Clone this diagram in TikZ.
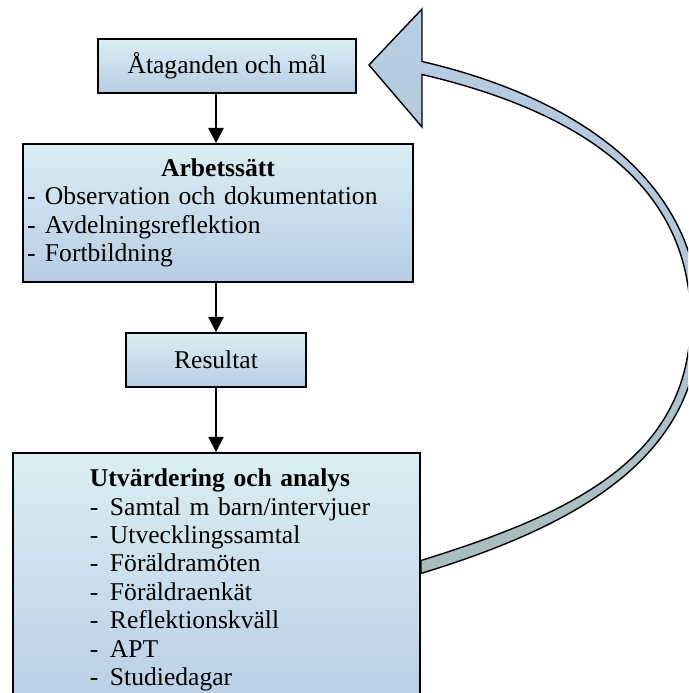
\documentclass[tikz,border=0pt]{standalone}
\usepackage{fontspec}
\setmainfont{Liberation Serif}
\usetikzlibrary{arrows.meta,positioning}
\definecolor{boxtop}{HTML}{DBEEF4}
\definecolor{boxbottom}{HTML}{B8CCE4}
\definecolor{looptop}{HTML}{B9CDE5}
\definecolor{loopbottom}{HTML}{A9BDBF}

\begin{document}
\begin{tikzpicture}[
    every node/.style={font=\fontsize{18.2}{20.2}\selectfont},
    stage/.style={
        rectangle,
        draw,
        line width=1.2pt,
        top color=boxtop,
        bottom color=boxbottom,
        minimum height=1.35cm,
        align=center
    },
    listbox/.style={
        stage,
        align=left,
        inner xsep=0.1cm
    },
    flow/.style={-{Triangle[width=0.38cm,length=0.38cm]}, line width=1.3pt},
    loop/.style={top color=looptop, bottom color=loopbottom, draw=black, line width=1pt}
]

\path[use as bounding box] (0,0) rectangle (17.2,-17.325);
\clip (0,0) rectangle (17.2,-17.325);

% Stages
\node[stage, minimum width=6.45cm] (goals) at (5.675,-1.65) {Åtaganden och mål};

\node[listbox, text width=9.55cm, minimum height=3.45cm] (work) at (5.45,-5.325) {
    {\centering\textbf{Arbetssätt}\par}
    \makebox[0.45cm][l]{-}Observation och dokumentation\\
    \makebox[0.45cm][l]{-}Avdelningsreflektion\\
    \makebox[0.45cm][l]{-}Fortbildning
};

\node[stage, minimum width=4.5cm] (result) at (5.4,-9) {Resultat};

\node[listbox, text width=9.975cm, inner ysep=0.35cm, anchor=north] (review) at (5.4125,-11.3) {
    \hspace*{1.825cm}\begin{tabular}[t]{@{}l@{}}
    \textbf{Utvärdering och analys}\\
    \makebox[0.5cm][l]{-}Samtal m barn/intervjuer\\
    \makebox[0.5cm][l]{-}Utvecklingssamtal\\
    \makebox[0.5cm][l]{-}Föräldramöten\\
    \makebox[0.5cm][l]{-}Föräldraenkät\\
    \makebox[0.5cm][l]{-}Reflektionskväll\\
    \makebox[0.5cm][l]{-}APT\\
    \makebox[0.5cm][l]{-}Studiedagar\rule[-0.6cm]{0pt}{0pt}
    \end{tabular}
};

% Flow between stages
\draw[flow] (goals.south -| result.north) -- (work.north -| result.north);
\draw[flow] (work.south -| result.north) -- (result.north);
\draw[flow] (result.south) -- (review.north -| result.south);

% Feedback loop back to the goals
\shadedraw[loop] (review.east |- 0,-14.3375)
    .. controls (14.2975,-13.18) and (17.4875,-11.5) .. (17.4875,-8)
    .. controls (17.4875,-4.5) and (14.3625,-2.4175) .. (10.55,-1.5375)
    -- (10.55,-0.225) -- (9.225,-1.625) -- (10.55,-3.175) -- (10.55,-1.8625)
    .. controls (14.2875,-2.7325) and (17.2625,-4.5) .. (17.2625,-8)
    .. controls (17.2625,-11.5) and (14.2025,-12.87) .. (review.east |- 0,-14.0125)
    -- cycle;

\end{tikzpicture}
\end{document}
